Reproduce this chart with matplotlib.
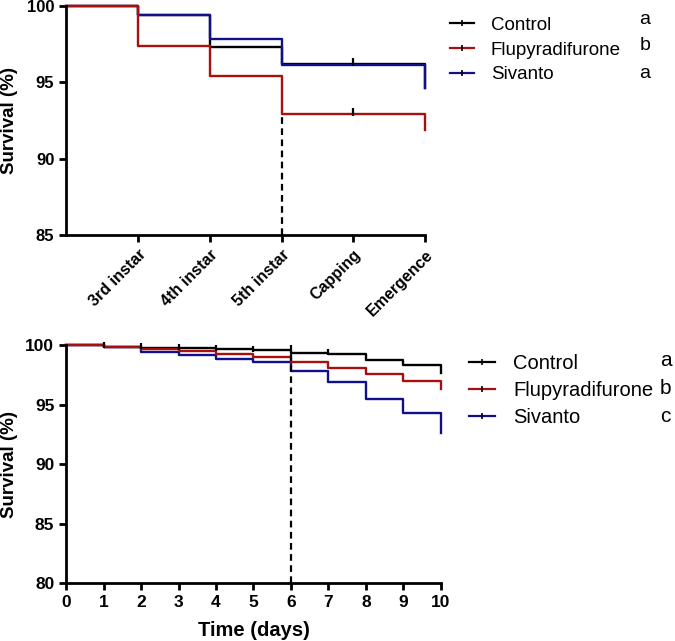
import matplotlib
matplotlib.use("Agg")
import matplotlib.pyplot as plt
from matplotlib.lines import Line2D

plt.rcParams['font.family'] = ['Liberation Sans', 'DejaVu Sans']

# --- data ---
groups = ["Control", "Flupyradifurone", "Sivanto"]
colors = ["#000000", "#A81010", "#10108A"]

stages = ["3rd instar", "4th instar", "5th instar", "Capping", "Emergence"]
stage_x = [0, 1, 2, 3, 4, 5]
larval_control = [100, 99.4, 97.3, 96.2, 96.2, 94.6]
larval_flupy = [100, 97.4, 95.4, 92.9, 92.9, 91.9]
larval_sivanto = [100, 99.4, 97.8, 96.1, 96.1, 94.6]
larval_letters = ["a", "b", "a"]

days = [0, 1, 2, 3, 4, 5, 6, 7, 8, 9, 10]
adult_control = [100, 99.9, 99.8, 99.75, 99.7, 99.6, 99.4, 99.3, 98.8, 98.35, 97.7]
adult_flupy = [100, 99.9, 99.7, 99.5, 99.3, 99.0, 98.6, 98.1, 97.6, 97.0, 96.3]
adult_sivanto = [100, 99.9, 99.45, 99.2, 98.85, 98.6, 97.85, 96.9, 95.5, 94.3, 92.6]
adult_censor_days = [1, 2, 3, 4, 5, 7]
adult_letters = ["a", "b", "c"]

fig = plt.figure(figsize=(6.75, 6.41), dpi=100)
ax1 = fig.add_axes([0.098, 0.633, 0.532, 0.358])
ax2 = fig.add_axes([0.098, 0.090, 0.555, 0.371])


def style(ax, size=12):
    for s in ["top", "right"]:
        ax.spines[s].set_visible(False)
    for s in ["left", "bottom"]:
        ax.spines[s].set_linewidth(2)
    ax.tick_params(width=2, length=5, labelsize=size, pad=3.5)
    for lab in ax.get_yticklabels() + ax.get_xticklabels():
        lab.set_fontweight("bold")


# top panel (black under blue under red)
for ys, c in zip([larval_control, larval_sivanto, larval_flupy], [colors[0], colors[2], colors[1]]):
    ax1.step(stage_x, ys, where="post", color=c, lw=1.7, clip_on=False)
for ys in [larval_control, larval_flupy]:
    ax1.plot([stage_x[4]], [ys[4] + 0.15], marker="|", ms=6, mew=1.6, color="black", clip_on=False)
ax1.plot([3, 3], [85, larval_flupy[3]], ls=(0, (3, 2)), color="black", lw=1.6)
ax1.set_xlim(0, 5)
ax1.set_ylim(85, 100)
ax1.set_yticks([85, 90, 95, 100])
ax1.set_xticks(stage_x[1:])
ax1.set_xticklabels(stages, rotation=45, ha="right", rotation_mode="anchor")
ax1.set_ylabel("Survival (%)", fontsize=13.5, fontweight="bold")
ax1.yaxis.set_label_coords(-0.134, 0.5)
style(ax1)
for lab in ax1.get_xticklabels():
    lab.set_fontsize(11.5)

# bottom panel
for ys, c in zip([adult_control, adult_sivanto, adult_flupy], [colors[0], colors[2], colors[1]]):
    ax2.step(days, ys, where="post", color=c, lw=1.7, clip_on=False)
ax2.plot(adult_censor_days, [adult_control[d] + 0.12 for d in adult_censor_days],
         ls="none", marker="|", ms=5, mew=1.6, color="black", clip_on=False)
ax2.plot([6, 6], [80, 100], ls=(0, (3, 2)), color="black", lw=1.6)
ax2.set_xlim(0, 10)
ax2.set_ylim(80, 100)
ax2.set_xticks(days)
ax2.set_yticks([80, 85, 90, 95, 100])
ax2.set_ylabel("Survival (%)", fontsize=13.5, fontweight="bold")
ax2.yaxis.set_label_coords(-0.128, 0.5)
ax2.set_xlabel("Time (days)", fontsize=14.5, fontweight="bold")
ax2.xaxis.set_label_coords(0.5, -0.158)
style(ax2, 12.5)

# legends
handles = [Line2D([], [], color=c, lw=1.6, marker="|", ms=5, mew=1.2, markeredgecolor="black") for c in colors]
fig.legend(handles, groups, loc="upper left", bbox_to_anchor=(0.641, 1.0), frameon=False,
           fontsize=13.5, handlelength=1.3, handletextpad=0.9, labelspacing=0.4, numpoints=1)
for i, l in enumerate(larval_letters):
    fig.text(0.947, 1 - (19 + 27 * i) / 641, l, fontsize=14, va="center")

fig.legend(handles, groups, loc="upper left", bbox_to_anchor=(0.668, 0.476), frameon=False,
           fontsize=14.5, handlelength=1.3, handletextpad=0.9, labelspacing=0.4, numpoints=1)
for i, l in enumerate(adult_letters):
    fig.text(0.978, 1 - (360 + 28 * i) / 641, l, fontsize=15, va="center")

fig.savefig("out.png", dpi=100)
